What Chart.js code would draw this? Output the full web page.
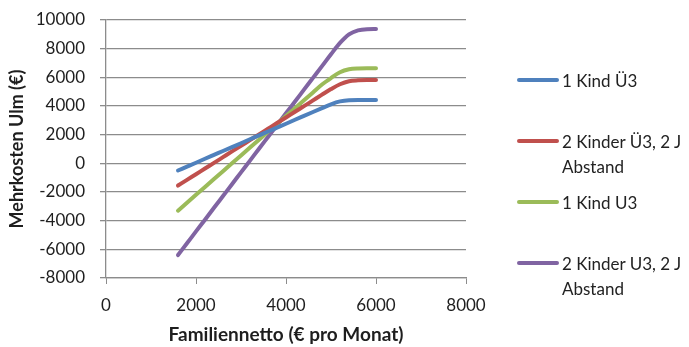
<!DOCTYPE html>
<html>
<head>
<meta charset="utf-8">
<script src="https://cdn.jsdelivr.net/npm/chart.js@4"></script>
<style>
  html, body { margin: 0; padding: 0; background: #fff; }
  body { width: 689px; height: 347px; overflow: hidden; position: relative; font-family: Lato, "Open Sans", sans-serif; }
  #wrap { position: absolute; left: 0; top: 0; width: 689px; height: 347px; }
  .legend-item { position: absolute; left: 517px; white-space: nowrap; font-size: 17px; line-height: 25px; color: #222; }
  .legend-item .swatch { position: absolute; left: 0; top: 10px; width: 42px; height: 4px; border-radius: 2px; }
  .legend-item .txt { position: absolute; left: 45px; top: 0; }
</style>
</head>
<body>
<div id="wrap"><canvas id="mainChart" width="689" height="347"></canvas></div>
<div id="legend"></div>
<script>
// Familiennetto in € pro Monat
const income = [1600, 1800, 2000, 2200, 2400, 2600, 2800, 3000, 3200, 3400, 3600, 3800,
                4000, 4200, 4400, 4600, 4800, 5000, 5200, 5400, 5600, 5800, 6000];

// Mehrkosten Ulm in €
const kindUe3 = [-500, -230, 40, 320, 590, 860, 1130, 1400, 1680, 1950, 2220, 2490,
                 2760, 3040, 3310, 3580, 3850, 4120, 4320, 4400, 4410, 4410, 4410];
const zweiKinderUe3 = [-1550, -1150, -760, -360, 30, 430, 830, 1220, 1620, 2010, 2410, 2810,
                       3200, 3600, 3990, 4390, 4790, 5180, 5520, 5730, 5790, 5810, 5810];
const kindU3 = [-3300, -2750, -2200, -1650, -1100, -550, 0, 550, 1100, 1650, 2200, 2750,
                3300, 3850, 4400, 4950, 5500, 5950, 6350, 6560, 6620, 6630, 6630];
const zweiKinderU3 = [-6400, -5580, -4750, -3930, -3100, -2280, -1460, -630, 190, 1020, 1840, 2660,
                      3490, 4310, 5140, 5960, 6780, 7610, 8400, 9000, 9280, 9360, 9370];

const seriesLabels = [
    ['1 Kind Ü3'],
    ['2 Kinder Ü3, 2 J', 'Abstand'],
    ['1 Kind U3'],
    ['2 Kinder U3, 2 J', 'Abstand']
];
const seriesColors = ['#4F81BD', '#C0504D', '#9BBB59', '#8064A2'];
const seriesValues = [kindUe3, zweiKinderUe3, kindU3, zweiKinderU3];

const xTicks = [0, 2000, 4000, 6000, 8000];
const yTicks = [-8000, -6000, -4000, -2000, 0, 2000, 4000, 6000, 8000, 10000];

const axisGrey = '#8c8c8c';
const textColor = '#1e1e1e';
const plainNumber = v => String(v);

const mainCtx = document.getElementById('mainChart').getContext('2d');

new Chart(mainCtx, {
    type: 'line',
    data: {
        datasets: seriesValues.map((vals, i) => ({
            label: seriesLabels[i].join(' '),
            data: income.map((x, j) => ({ x: x, y: vals[j] })),
            borderColor: seriesColors[i],
            borderWidth: 4,
            borderCapStyle: 'round',
            borderJoinStyle: 'round',
            cubicInterpolationMode: 'monotone',
            pointRadius: 0,
            fill: false
        }))
    },
    options: {
        responsive: false,
        animation: false,
        events: [],
        layout: { padding: { left: 0, right: 223, top: 20, bottom: 0 } },
        plugins: {
            legend: { display: false },
            tooltip: { enabled: false }
        },
        scales: {
            x: {
                type: 'linear',
                min: xTicks[0],
                max: xTicks[xTicks.length - 1],
                afterBuildTicks: s => { s.ticks = xTicks.map(v => ({ value: v })); },
                afterFit: s => { s.height = 69; },
                ticks: {
                    color: textColor,
                    font: { family: 'Lato', size: 17 },
                    padding: 11,
                    maxRotation: 0,
                    callback: plainNumber
                },
                grid: {
                    drawOnChartArea: false,
                    color: axisGrey,
                    tickLength: 6
                },
                border: { color: axisGrey, width: 1.3 },
                title: {
                    display: true,
                    text: 'Familiennetto (€ pro Monat)',
                    color: textColor,
                    font: { family: 'Lato', size: 19, weight: 'bold' },
                    padding: { top: 0, bottom: 1 }
                }
            },
            y: {
                min: yTicks[0],
                max: yTicks[yTicks.length - 1],
                afterBuildTicks: s => { s.ticks = yTicks.map(v => ({ value: v })); },
                // fixed axis width; top/bottom label room is covered by layout padding
                afterFit: s => { s.width = 106; s.paddingTop = 0; s.paddingBottom = 0; },
                ticks: {
                    color: textColor,
                    font: { family: 'Lato', size: 17 },
                    padding: 15,
                    callback: plainNumber
                },
                grid: {
                    color: axisGrey,
                    lineWidth: 1.3,
                    tickLength: 6
                },
                border: { color: axisGrey, width: 1.3 },
                title: {
                    display: true,
                    text: 'Mehrkosten Ulm (€)',
                    color: textColor,
                    font: { family: 'Lato', size: 18, weight: 'bold' },
                    padding: { top: 6, bottom: 0 }
                }
            }
        }
    }
});

// legend to the right of the plot, labels may wrap onto a second line
const legendTops = [68, 129, 190, 251];
const legendEl = document.getElementById('legend');
seriesLabels.forEach((lines, i) => {
    const item = document.createElement('div');
    item.className = 'legend-item';
    item.style.top = legendTops[i] + 'px';
    const sw = document.createElement('div');
    sw.className = 'swatch';
    sw.style.background = seriesColors[i];
    const txt = document.createElement('div');
    txt.className = 'txt';
    txt.innerHTML = lines.join('<br>');
    item.appendChild(sw);
    item.appendChild(txt);
    legendEl.appendChild(item);
});
</script>
</body>
</html>
